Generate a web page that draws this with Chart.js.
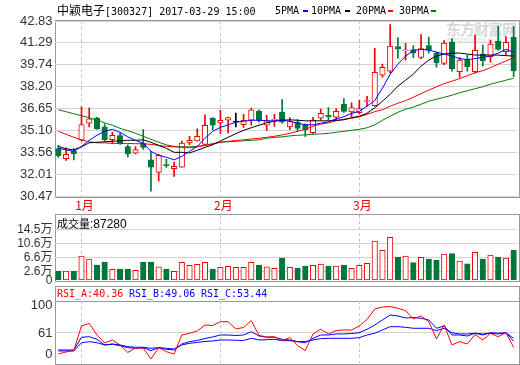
<!DOCTYPE html>
<html>
<head>
<meta charset="utf-8">
<script src="https://cdn.jsdelivr.net/npm/chart.js@4.4.1/dist/chart.umd.min.js"></script>
<style>
  body { margin: 0; background: #fff; width: 520px; height: 365px; overflow: hidden; position: relative;
         font-family: 'DejaVu Sans Mono', 'Noto Sans CJK SC', monospace; }
  canvas { position: absolute; left: 0; }
  .box { position: absolute; border: 1px solid #999; box-sizing: border-box; }
  .txt { position: absolute; font-size: 10px; line-height: 12px; white-space: nowrap; color: #000; }
  .cjk { font-family: 'Noto Sans CJK SC', sans-serif; font-size: 12px; }
  .dash { position: absolute; width: 5px; height: 2px; }
  .wm { position: absolute; color: rgba(140,140,140,0.35); font-family: 'Noto Sans CJK SC', sans-serif; white-space: nowrap; }
</style>
</head>
<body>
<div class="wm" style="left:446px;top:18px;font-size:15px;font-weight:bold;letter-spacing:-1px;">东方财富网</div>
<div class="wm" style="left:447px;top:35px;font-size:8px;font-family:'Liberation Sans';">eastmoney.com</div>

<div class="box" style="left:55px;top:20px;width:465px;height:178px;"></div>
<div class="box" style="left:55px;top:214px;width:465px;height:68px;"></div>
<div class="box" style="left:55px;top:286px;width:465px;height:79px;"></div>
<div style="position:absolute;left:55px;top:301px;width:465px;height:1px;background:#999;"></div>

<canvas id="priceChart" width="520" height="215" style="top:0"></canvas>
<canvas id="volChart" width="520" height="90" style="top:200px"></canvas>
<canvas id="rsiChart" width="520" height="80" style="top:285px"></canvas>

<div class="txt" style="left:57px;top:4px;"><span class="cjk">中颖电子</span>[300327] 2017-03-29 15:00</div>
<div class="txt" style="left:275px;top:5px;">5PMA</div><div class="dash" style="left:303px;top:10px;background:#0000ff"></div>
<div class="txt" style="left:311px;top:5px;">10PMA</div><div class="dash" style="left:345px;top:10px;background:#000"></div>
<div class="txt" style="left:356px;top:5px;">20PMA</div><div class="dash" style="left:388px;top:10px;background:#ff0000"></div>
<div class="txt" style="left:399px;top:5px;">30PMA</div><div class="dash" style="left:431px;top:10px;background:#008000"></div>

<div class="txt" style="left:57px;top:216px;font-size:12px;line-height:14px;font-family:'Liberation Sans','Noto Sans CJK SC';"><span style="font-family:'Noto Sans CJK SC';font-size:11px">成交量</span>:87280</div>

<div class="txt" style="left:57px;top:288px;color:#ff0000;">RSI_A:40.36</div>
<div class="txt" style="left:129px;top:288px;color:#0000ff;">RSI_B:49.06</div>
<div class="txt" style="left:201px;top:288px;color:#0000ff;">RSI_C:53.44</div>

<script>
// trading days shown, Dec 28 2016 .. Mar 29 2017
const dates = [
  '2016-12-28','2016-12-29','2016-12-30',
  '2017-01-03','2017-01-04','2017-01-05','2017-01-06','2017-01-09','2017-01-10','2017-01-11','2017-01-12','2017-01-13',
  '2017-01-16','2017-01-17','2017-01-18','2017-01-19','2017-01-20','2017-01-23','2017-01-24','2017-01-25','2017-01-26',
  '2017-02-03','2017-02-06','2017-02-07','2017-02-08','2017-02-09','2017-02-10','2017-02-13','2017-02-14','2017-02-15',
  '2017-02-16','2017-02-17','2017-02-20','2017-02-21','2017-02-22','2017-02-23','2017-02-24','2017-02-27','2017-02-28',
  '2017-03-01','2017-03-02','2017-03-03','2017-03-06','2017-03-07','2017-03-08','2017-03-09','2017-03-10','2017-03-13',
  '2017-03-14','2017-03-15','2017-03-16','2017-03-17','2017-03-20','2017-03-21','2017-03-22','2017-03-23','2017-03-24',
  '2017-03-27','2017-03-28','2017-03-29'
];

const open = [33.84,33.13,33.65,34.43,35.63,36.00,35.38,34.48,34.76,33.98,
  33.53,34.21,33.06,32.17,32.71,32.43,32.54,34.24,34.38,34.14,
  35.98,35.65,35.84,35.72,35.52,35.84,36.47,35.49,35.86,36.42,
  35.37,35.72,35.52,34.96,35.98,36.19,36.05,36.97,36.42,36.37,
  37.16,36.86,39.02,39.30,41.02,40.73,40.82,40.27,41.10,40.57,
  39.84,41.35,39.26,40.11,39.26,40.50,40.32,41.42,40.67,41.68];
const high = [34.07,33.90,33.84,36.78,36.72,36.05,35.59,35.00,34.92,34.11,
  33.98,35.18,33.65,33.44,33.08,32.89,34.38,34.71,35.24,36.23,
  36.02,36.55,36.07,36.35,36.26,36.69,36.58,36.19,36.26,37.30,
  36.03,35.89,35.59,36.05,36.62,36.74,36.66,37.37,37.06,37.25,
  37.53,40.90,39.79,42.58,41.66,41.26,41.10,41.88,41.70,40.64,
  41.45,41.59,40.25,40.43,41.84,41.13,41.49,42.48,41.74,42.44];
const low = [33.23,33.01,33.05,34.36,35.37,35.20,34.36,34.21,34.14,33.25,
  33.47,33.79,30.85,31.55,32.52,31.88,32.52,34.12,34.36,34.07,
  35.18,34.92,34.94,35.37,35.34,35.49,35.70,35.13,35.41,35.63,
  35.17,35.06,34.71,34.90,35.84,35.84,35.84,36.40,36.07,36.26,
  36.83,36.83,38.88,39.18,40.22,40.08,40.25,40.18,40.57,39.58,
  39.76,39.30,38.85,39.30,39.16,39.65,39.93,40.78,40.46,38.91];
const close = [33.32,33.44,33.49,35.54,35.94,35.25,34.48,34.78,34.19,33.46,
  33.77,33.93,32.54,33.37,32.64,32.59,34.24,34.43,34.71,35.49,
  35.49,35.84,36.03,35.72,35.84,36.58,35.84,35.80,35.89,35.70,
  35.75,35.27,35.17,35.86,36.33,36.09,36.47,36.47,36.74,36.66,
  37.18,39.21,39.56,41.06,40.87,40.78,40.57,40.89,40.78,39.89,
  41.28,39.48,40.08,39.62,40.76,40.01,41.21,40.82,41.33,39.33];

const ma5 = [33.86,33.76,33.65,34.00,34.43,34.78,35.06,35.20,34.99,34.67,
  34.43,34.21,33.65,33.37,33.23,33.05,33.30,33.65,34.00,34.57,
  35.06,35.34,35.52,35.70,35.77,35.84,35.84,35.80,35.80,35.87,
  35.77,35.63,35.52,35.52,35.63,35.73,35.94,36.09,36.33,36.47,
  36.83,37.22,38.10,39.09,39.79,40.36,40.75,40.83,40.78,40.64,
  40.50,40.36,40.18,40.11,40.18,40.27,40.36,40.57,40.83,40.64];
const ma10 = [34.00,33.83,33.76,33.97,34.25,34.29,34.32,34.36,34.39,34.43,
  34.43,34.46,34.29,34.07,33.86,33.58,33.58,33.54,33.72,33.93,
  34.11,34.39,34.64,34.89,35.13,35.31,35.49,35.66,35.77,35.84,
  35.87,35.84,35.80,35.80,35.80,35.80,35.84,35.87,36.02,36.12,
  36.33,36.72,37.18,37.67,38.24,38.66,39.09,39.65,40.08,40.36,
  40.50,40.57,40.57,40.50,40.43,40.43,40.43,40.43,40.39,40.36];
const ma20 = [35.06,34.85,34.64,34.46,34.32,34.25,34.25,34.21,34.21,34.21,
  34.19,34.18,34.14,34.07,34.00,33.97,33.93,33.90,33.97,34.07,
  34.18,34.29,34.36,34.41,34.46,34.52,34.57,34.64,34.71,34.81,
  34.92,35.06,35.20,35.42,35.56,35.66,35.80,35.91,35.98,36.09,
  36.26,36.44,36.58,36.83,37.04,37.22,37.46,37.71,37.96,38.20,
  38.42,38.59,38.77,38.98,39.19,39.33,39.55,39.79,40.01,40.25];
const ma30 = [36.58,36.44,36.30,36.16,36.02,35.84,35.66,35.49,35.27,35.10,
  34.92,34.71,34.50,34.29,34.11,34.00,33.97,33.97,34.00,34.07,
  34.18,34.29,34.32,34.36,34.39,34.43,34.46,34.57,34.64,34.67,
  34.74,34.78,34.81,34.85,34.88,34.92,34.99,35.06,35.13,35.20,
  35.31,35.52,35.84,36.12,36.40,36.62,36.76,36.97,37.18,37.32,
  37.46,37.60,37.78,37.92,38.06,38.20,38.38,38.52,38.66,38.80];

const volume = [27200,27200,27200,70200,61600,44400,53000,32100,33000,33000,
  29200,53000,53000,39500,33000,26400,52100,43600,46400,52100,
  33000,37800,40700,37800,37800,52100,44400,39500,35000,64500,
  37800,35000,41500,43600,47300,41500,41500,44400,35000,43600,
  49300,113200,86500,123800,67300,70200,51000,66500,61600,58700,
  75900,76800,55900,48100,80800,61600,73100,67300,64500,87280];

const rsiA = [31.0,33.9,36.0,71.0,74.6,58.1,46.7,51.0,43.9,33.1,
  39.6,39.1,23.9,40.0,34.3,31.0,58.1,60.6,63.9,72.4,
  71.7,77.1,77.1,66.7,68.9,78.6,57.4,55.3,55.7,50.0,
  54.6,43.1,35.7,59.6,66.3,59.6,64.6,65.3,65.3,71.0,
  80.3,95.3,98.1,98.9,96.3,92.9,81.0,85.3,77.4,52.4,
  72.4,43.9,48.6,45.3,58.9,51.0,60.3,55.7,61.4,40.36];
const rsiB = [36.7,36.7,36.7,54.9,55.7,52.0,43.9,44.9,42.9,40.0,
  39.1,40.0,35.7,40.0,37.7,36.7,45.3,48.6,50.3,53.1,
  55.3,58.1,58.1,57.4,58.1,62.9,56.7,54.9,54.9,52.0,
  51.0,48.6,47.1,53.4,58.1,58.1,59.6,59.6,60.3,61.4,
  66.3,72.4,79.6,86.7,85.3,82.4,83.1,82.0,79.6,67.7,
  71.0,58.1,58.1,56.7,60.6,58.1,61.4,60.6,61.4,49.06];
const rsiC = [35.3,35.3,35.3,47.1,48.6,47.1,43.9,45.3,43.9,41.4,
  40.6,40.6,39.1,40.0,39.1,38.1,43.9,46.3,47.4,48.9,
  49.6,51.0,51.0,50.6,50.3,53.4,51.0,51.4,52.0,50.0,
  50.0,48.6,48.6,51.0,52.9,53.4,53.4,53.4,53.4,54.3,
  58.1,60.6,65.3,70.0,70.0,69.1,67.7,67.7,67.7,64.3,
  67.7,61.4,59.6,59.6,60.6,59.6,60.6,59.6,61.4,53.44];

const priceTicks = [30.47, 32.01, 33.56, 35.10, 36.65, 38.20, 39.74, 41.29, 42.83];
const volTicks = [0, 26000, 66000, 106000, 145000];
const rsiTicks = [30, 61, 100];
const rsiTickLabels = ['0', '61', '100'];

const RED = '#ee0000';
const GREEN = '#00773a';
const GRID = '#d4d4d4';

const candleColor = i => close[i] > open[i] ? RED : (close[i] < open[i] ? GREEN : '#000');
const volColor = i => close[i] >= open[i] ? RED : GREEN;

function monthLabel(i) {
  if (i === 0) return '';
  const m = dates[i].slice(5, 7), pm = dates[i - 1].slice(5, 7);
  return m !== pm ? parseInt(m, 10) + '月' : '';
}

function fixY(width) {
  return scale => {
    scale.width = width;
    scale.paddingTop = 0;
    scale.paddingBottom = 0;
  };
}
function fixX(height) {
  return scale => {
    scale.height = height;
    scale.paddingLeft = 0;
    scale.paddingRight = 0;
  };
}

const AXIS_W = 54.5;
const RIGHT_PAD = 2.5;
const tickFont = { family: "'Liberation Sans', Arial", size: 13 };

function xAxis(showLabels, height) {
  return {
    type: 'category',
    offset: true,
    afterFit: fixX(height),
    grid: {
      offset: false,
      drawTicks: false,
      color: ctx => monthLabel(ctx.index) ? '#c4c4c4' : 'transparent'
    },
    border: { display: false, dash: [3, 3] },
    ticks: {
      display: showLabels,
      autoSkip: false,
      maxRotation: 0,
      padding: 2,
      labelOffset: 3,
      color: RED,
      font: { family: "'Noto Sans CJK SC', sans-serif", size: 12 },
      callback: (v, i) => monthLabel(i)
    }
  };
}

const common = {
  responsive: false,
  animation: false,
  plugins: { legend: { display: false }, tooltip: { enabled: false } }
};

// price panel
new Chart(document.getElementById('priceChart'), {
  data: {
    labels: dates,
    datasets: [
      { type: 'line', data: ma5, borderColor: '#0000ff', borderWidth: 1, pointRadius: 0, order: 0 },
      { type: 'line', data: ma10, borderColor: '#000000', borderWidth: 1, pointRadius: 0, order: 0 },
      { type: 'line', data: ma20, borderColor: '#ff0000', borderWidth: 1, pointRadius: 0, order: 0 },
      { type: 'line', data: ma30, borderColor: '#008000', borderWidth: 1, pointRadius: 0, order: 0 },
      {
        type: 'bar',
        data: open.map((o, i) => [Math.min(o, close[i]), Math.max(o, close[i])]),
        backgroundColor: ctx => close[ctx.dataIndex] > open[ctx.dataIndex] ? '#fff' : candleColor(ctx.dataIndex),
        borderColor: ctx => candleColor(ctx.dataIndex),
        borderWidth: 1,
        borderSkipped: false,
        minBarLength: 1,
        barThickness: 5.5,
        grouped: false,
        order: 1
      },
      {
        type: 'bar',
        data: low.map((l, i) => [l, high[i]]),
        backgroundColor: ctx => candleColor(ctx.dataIndex),
        borderWidth: 0,
        barThickness: 1,
        grouped: false,
        order: 2
      }
    ]
  },
  options: {
    ...common,
    layout: { padding: { left: 0, right: RIGHT_PAD, top: 21, bottom: 0 } },
    scales: {
      x: xAxis(true, 18.5),
      y: {
        min: 30.47,
        max: 42.83,
        afterFit: fixY(AXIS_W),
        afterBuildTicks: scale => { scale.ticks = priceTicks.map(v => ({ value: v })); },
        grid: { color: GRID, drawTicks: false },
        border: { display: false },
        ticks: { autoSkip: false, padding: 2, color: '#333', font: tickFont, callback: v => v.toFixed(2) }
      }
    }
  }
});

// volume panel
new Chart(document.getElementById('volChart'), {
  type: 'bar',
  data: {
    labels: dates,
    datasets: [{
      data: volume,
      backgroundColor: ctx => volColor(ctx.dataIndex) === RED ? '#fff' : GREEN,
      borderColor: ctx => volColor(ctx.dataIndex),
      borderWidth: 1,
      borderSkipped: false,
      barThickness: 5.5
    }]
  },
  options: {
    ...common,
    layout: { padding: { left: 0, right: RIGHT_PAD, top: 15, bottom: 9.5 } },
    scales: {
      x: xAxis(false, 0),
      y: {
        min: 0,
        max: 187700,
        afterFit: fixY(AXIS_W),
        afterBuildTicks: scale => { scale.ticks = volTicks.map(v => ({ value: v })); },
        grid: { color: ctx => ctx.tick && ctx.tick.value === 0 ? 'transparent' : GRID, drawTicks: false },
        border: { display: false },
        ticks: {
          autoSkip: false, padding: 2, color: '#333',
          font: { family: "'Liberation Sans', 'Noto Sans CJK SC'", size: 12, lineHeight: 1 },
          callback: v => v === 0 ? '0' : (v / 10000).toFixed(1) + '万'
        }
      }
    }
  }
});

// RSI panel
new Chart(document.getElementById('rsiChart'), {
  type: 'line',
  data: {
    labels: dates,
    datasets: [
      { data: rsiA, borderColor: '#ff0000', borderWidth: 1, pointRadius: 0 },
      { data: rsiB, borderColor: '#0000ff', borderWidth: 1, pointRadius: 0 },
      { data: rsiC, borderColor: '#0000ff', borderWidth: 1, pointRadius: 0 }
    ]
  },
  options: {
    ...common,
    layout: { padding: { left: 0, right: RIGHT_PAD, top: 16, bottom: 2 } },
    scales: {
      x: xAxis(false, 0),
      y: {
        min: 18.1,
        max: 106.7,
        afterFit: fixY(AXIS_W),
        afterBuildTicks: scale => { scale.ticks = rsiTicks.map(v => ({ value: v })); },
        grid: { color: ctx => ctx.tick && ctx.tick.value === 61 ? GRID : 'transparent', drawTicks: false },
        border: { display: false },
        ticks: {
          autoSkip: false, padding: 2, color: '#333', font: tickFont,
          callback: (v, i) => rsiTickLabels[i]
        }
      }
    }
  }
});
</script>
</body>
</html>
